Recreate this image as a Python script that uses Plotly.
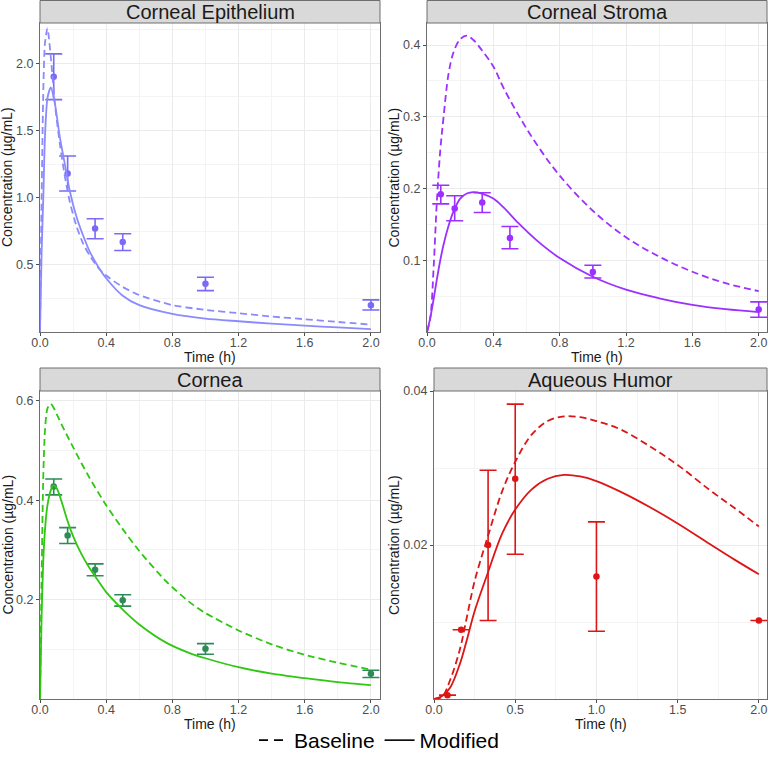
import plotly.graph_objects as go

# ---------------- data ----------------
obs_t = [0.083, 0.167, 0.333, 0.5, 1.0, 2.0]

# Corneal Epithelium
t_epi = [0, 0.01, 0.02, 0.03, 0.045, 0.065, 0.09, 0.12, 0.15, 0.18, 0.22, 0.26, 0.3, 0.35,
         0.4, 0.5, 0.6, 0.8, 1.0, 1.2, 1.4, 1.6, 1.8, 2.0]
epi_mod = [0, 0.6, 1.0, 1.45, 1.74, 1.82, 1.70, 1.45, 1.25, 1.05, 0.86, 0.72, 0.60, 0.49,
           0.40, 0.27, 0.20, 0.135, 0.10, 0.08, 0.062, 0.047, 0.034, 0.022]
epi_base = [0, 1.0, 1.8, 2.15, 2.26, 2.05, 1.70, 1.40, 1.16, 0.97, 0.79, 0.66, 0.57, 0.48,
            0.42, 0.335, 0.275, 0.20, 0.165, 0.14, 0.115, 0.095, 0.075, 0.055]
epi_obs = [1.90, 1.18, 0.77, 0.67, 0.36, 0.20]
epi_lo = [1.73, 1.05, 0.694, 0.607, 0.308, 0.164]
epi_hi = [2.07, 1.31, 0.843, 0.731, 0.408, 0.239]

# Corneal Stroma
t_str = [0, 0.02, 0.04, 0.06, 0.08, 0.1, 0.13, 0.16, 0.2, 0.24, 0.28, 0.33, 0.4, 0.46,
         0.55, 0.66, 0.8, 1.0, 1.2, 1.4, 1.6, 1.8, 2.0]
str_mod = [0, 0.02, 0.046, 0.074, 0.1, 0.122, 0.148, 0.168, 0.186, 0.193, 0.195, 0.193,
           0.186, 0.174, 0.152, 0.128, 0.103, 0.077, 0.059, 0.047, 0.0378, 0.0318, 0.0278]
str_base = [0, 0.02, 0.09, 0.184, 0.253, 0.30, 0.36, 0.39, 0.408, 0.413, 0.407, 0.393,
            0.37, 0.341, 0.303, 0.262, 0.218, 0.169, 0.132, 0.105, 0.084, 0.068, 0.057]
str_obs = [0.192, 0.172, 0.1805, 0.131, 0.0837, 0.0312]
str_lo = [0.1786, 0.155, 0.1666, 0.116, 0.0753, 0.0205]
str_hi = [0.2045, 0.19, 0.194, 0.147, 0.093, 0.042]

# Cornea
t_cor = [0, 0.01, 0.02, 0.03, 0.045, 0.065, 0.08, 0.1, 0.13, 0.16, 0.2, 0.25, 0.3, 0.333,
         0.4, 0.5, 0.6, 0.765, 0.9, 1.0, 1.2, 1.4, 1.6, 1.8, 2.0]
cor_mod = [0, 0.17, 0.28, 0.34, 0.39, 0.42, 0.43, 0.425, 0.398, 0.365, 0.328, 0.292, 0.263,
           0.247, 0.215, 0.18, 0.15, 0.113, 0.093, 0.082, 0.064, 0.051, 0.042, 0.034, 0.028]
cor_base = [0, 0.25, 0.45, 0.54, 0.585, 0.594, 0.588, 0.574, 0.553, 0.533, 0.507, 0.475,
            0.445, 0.426, 0.39, 0.342, 0.298, 0.236, 0.196, 0.173, 0.138, 0.11, 0.089, 0.073, 0.059]
cor_obs = [0.428, 0.329, 0.260, 0.199, 0.101, 0.0506]
cor_lo = [0.411, 0.313, 0.248, 0.187, 0.090, 0.0432]
cor_hi = [0.443, 0.345, 0.272, 0.210, 0.1115, 0.058]

# Aqueous Humor
t_aq = [0, 0.05, 0.1, 0.16, 0.2, 0.25, 0.33, 0.42, 0.5, 0.6, 0.7, 0.8, 0.9, 1.0, 1.15,
        1.33, 1.5, 1.7, 1.85, 2.0]
aq_mod = [0, 0.0004, 0.0015, 0.0046, 0.0075, 0.0114, 0.0163, 0.0215, 0.0246, 0.0272,
          0.0286, 0.0291, 0.0289, 0.0283, 0.0269, 0.0249, 0.0228, 0.0201, 0.0181, 0.0162]
aq_base = [0, 0.0003, 0.0025, 0.0065, 0.0104, 0.0153, 0.021, 0.027, 0.0308, 0.0343,
           0.0361, 0.0367, 0.0366, 0.0361, 0.035, 0.0328, 0.0304, 0.0271, 0.0248, 0.0224]
aq_obs = [0.0005, 0.009, 0.020, 0.0286, 0.0159, 0.0102]
aq_lo = [0.0005, 0.009, 0.0102, 0.0188, 0.0088, 0.0102]
aq_hi = [0.0005, 0.009, 0.0297, 0.0383, 0.0230, 0.0102]

panel_titles = ["Corneal Epithelium", "Corneal Stroma", "Cornea", "Aqueous Humor"]
legend_labels = ["Baseline", "Modified"]

# ---------------- layout geometry (pixels) ----------------
W, H = 768, 761
def px(x): return x / W
def py(y): return 1 - y / H

panels = [
    dict(x0=40, x1=380, y0=23, y1=332, xr=[0, 2.055], yr=[0, 2.30], sm=0.7,
         t=t_epi, mod=epi_mod, base=epi_base, obs=epi_obs, lo=epi_lo, hi=epi_hi,
         lc="#8B8BFF", pc="#7A6AF5",
         xt=[0, 0.4, 0.8, 1.2, 1.6, 2.0], xm=[0.2, 0.6, 1.0, 1.4, 1.8], xf=".1f",
         yt=[0.5, 1.0, 1.5, 2.0], ym=[0.25, 0.75, 1.25, 1.75, 2.25], yf=".1f"),
    dict(x0=427, x1=767, y0=23, y1=332, xr=[0, 2.05], yr=[0, 0.4307], sm=1.0,
         t=t_str, mod=str_mod, base=str_base, obs=str_obs, lo=str_lo, hi=str_hi,
         lc="#9B30FF", pc="#9B30FF",
         xt=[0, 0.4, 0.8, 1.2, 1.6, 2.0], xm=[0.2, 0.6, 1.0, 1.4, 1.8], xf=".1f",
         yt=[0.1, 0.2, 0.3, 0.4], ym=[0.05, 0.15, 0.25, 0.35], yf=".1f"),
    dict(x0=40, x1=380, y0=391, y1=699, xr=[0, 2.055], yr=[0, 0.62], sm=0.7,
         t=t_cor, mod=cor_mod, base=cor_base, obs=cor_obs, lo=cor_lo, hi=cor_hi,
         lc="#2FC712", pc="#2E8B57",
         xt=[0, 0.4, 0.8, 1.2, 1.6, 2.0], xm=[0.2, 0.6, 1.0, 1.4, 1.8], xf=".1f",
         yt=[0.2, 0.4, 0.6], ym=[0.1, 0.3, 0.5], yf=".1f"),
    dict(x0=434, x1=767, y0=391, y1=699, xr=[0, 2.05], yr=[0, 0.04], sm=1.0,
         t=t_aq, mod=aq_mod, base=aq_base, obs=aq_obs, lo=aq_lo, hi=aq_hi,
         lc="#DC1616", pc="#DC1616",
         xt=[0, 0.5, 1.0, 1.5, 2.0], xm=[0.25, 0.75, 1.25, 1.75], xf=".1f",
         yt=[0.02, 0.04], ym=[0.01, 0.03], yf=".2f"),
]

FONT = "Liberation Sans, Arial, sans-serif"
fig = go.Figure()
shapes, annotations = [], []

for i, p in enumerate(panels):
    n = i + 1
    xa = "x" if n == 1 else f"x{n}"
    ya = "y" if n == 1 else f"y{n}"
    # observations with error bars
    fig.add_trace(go.Scatter(
        x=obs_t, y=p["obs"], mode="markers", xaxis=xa, yaxis=ya, showlegend=False,
        marker=dict(color=p["pc"], size=6.5),
        error_y=dict(type="data", symmetric=False,
                     array=[h - o for h, o in zip(p["hi"], p["obs"])],
                     arrayminus=[o - l for o, l in zip(p["obs"], p["lo"])],
                     color=p["pc"], thickness=1.6, width=8.5)))
    # baseline (dashed)
    fig.add_trace(go.Scatter(
        x=p["t"], y=p["base"], mode="lines", xaxis=xa, yaxis=ya, showlegend=False,
        line=dict(color=p["lc"], width=1.8, dash="7px,4px", shape="spline", smoothing=p["sm"])))
    # modified (solid)
    fig.add_trace(go.Scatter(
        x=p["t"], y=p["mod"], mode="lines", xaxis=xa, yaxis=ya, showlegend=False,
        line=dict(color=p["lc"], width=1.8, shape="spline", smoothing=p["sm"])))

    common = dict(showline=True, mirror=True, linecolor="#6E6E6E", linewidth=1,
                  ticks="outside", ticklen=3, tickcolor="#4D4D4D", tickwidth=1,
                  tickfont=dict(family=FONT, size=12.5, color="#4D4D4D"),
                  showgrid=True, gridcolor="#EBEBEB", gridwidth=1, zeroline=False,
                  tickmode="array", automargin=False)
    fig.layout[("xaxis" if n == 1 else f"xaxis{n}")] = dict(
        common, domain=[px(p["x0"]), px(p["x1"])], range=p["xr"], anchor=ya,
        tickvals=p["xt"], tickformat=p["xf"], ticklabelstandoff=-4,
        minor=dict(tickmode="array", tickvals=p["xm"], showgrid=True,
                   gridcolor="#F4F4F4", gridwidth=1, ticks=""))
    fig.layout[("yaxis" if n == 1 else f"yaxis{n}")] = dict(
        common, domain=[py(p["y1"]), py(p["y0"])], range=p["yr"], anchor=xa,
        tickvals=p["yt"], tickformat=p["yf"],
        minor=dict(tickmode="array", tickvals=p["ym"], showgrid=True,
                   gridcolor="#F4F4F4", gridwidth=1, ticks=""))

    # strip
    sy0 = p["y0"] - 23
    shapes.append(dict(type="rect", xref="paper", yref="paper",
                       x0=px(p["x0"]), x1=px(p["x1"]), y0=py(p["y0"]), y1=py(max(sy0, 0.5)),
                       fillcolor="#D9D9D9", line=dict(color="#6E6E6E", width=1), layer="above"))
    annotations.append(dict(text=panel_titles[i], xref="paper", yref="paper",
                            x=px((p["x0"] + p["x1"]) / 2), y=py(p["y0"] - 11.5),
                            xanchor="center", yanchor="middle", showarrow=False,
                            font=dict(family=FONT, size=20, color="#1A1A1A")))
    # axis titles
    annotations.append(dict(text="Time (h)", xref="paper", yref="paper",
                            x=px((p["x0"] + p["x1"]) / 2), y=py(p["y1"] + 25),
                            xanchor="center", yanchor="middle", showarrow=False,
                            font=dict(family=FONT, size=14, color="#1A1A1A")))
    annotations.append(dict(text="Concentration (µg/mL)", xref="paper", yref="paper",
                            x=px(7.5 if p["x0"] < 100 else 394), y=py((p["y0"] + p["y1"]) / 2),
                            xanchor="center", yanchor="middle", showarrow=False, textangle=-90,
                            font=dict(family=FONT, size=14, color="#1A1A1A")))

# legend entries
fig.add_trace(go.Scatter(x=[None], y=[None], mode="lines", name=legend_labels[0],
                         line=dict(color="black", width=1.6, dash="9px,6px")))
fig.add_trace(go.Scatter(x=[None], y=[None], mode="lines", name=legend_labels[1],
                         line=dict(color="black", width=1.6)))

fig.update_layout(
    width=W, height=H, margin=dict(l=0, r=0, t=0, b=0, pad=0, autoexpand=False),
    paper_bgcolor="white", plot_bgcolor="white",
    shapes=shapes, annotations=annotations,
    font=dict(family=FONT),
    legend=dict(orientation="h", x=px(379), xanchor="center", y=0, yanchor="bottom",
                font=dict(family=FONT, size=21, color="black"), bgcolor="rgba(0,0,0,0)",
                itemwidth=30, tracegroupgap=0, borderwidth=0),
)

fig.write_html("out.html", config={"displayModeBar": False},
               post_script="document.body.style.margin='0px';"
                           "document.body.style.overflow='hidden';")
